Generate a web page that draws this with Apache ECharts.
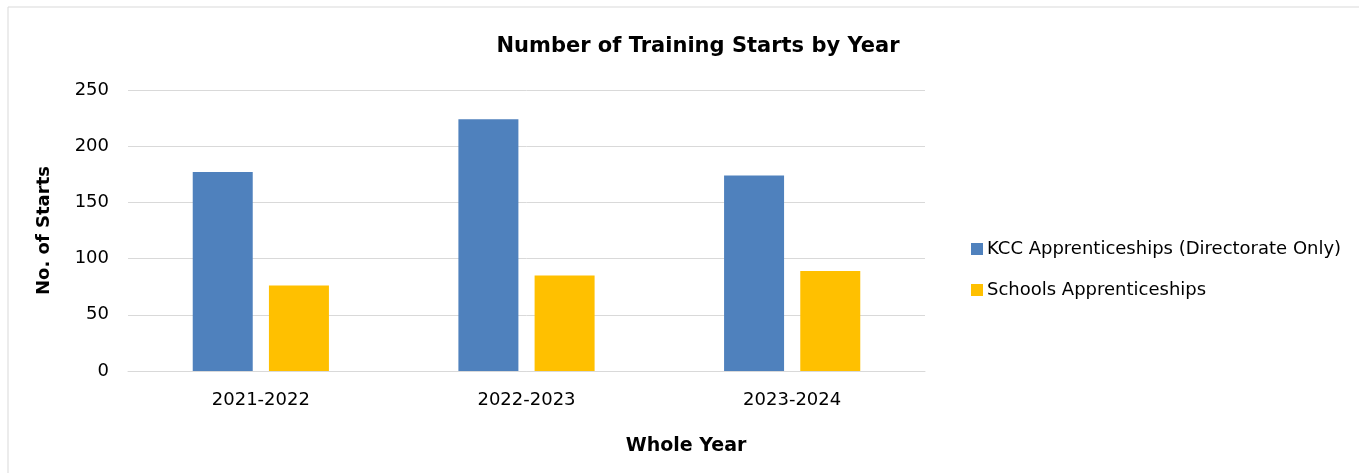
<!DOCTYPE html>
<html>
<head>
<meta charset="utf-8">
<script src="https://cdn.jsdelivr.net/npm/echarts@6/dist/echarts.min.js"></script>
<style>
  html, body { margin: 0; padding: 0; background: #fff; }
  #chart { width: 1359px; height: 473px; }
</style>
</head>
<body>
<div id="chart"></div>
<script>
var years = ['2021-2022', '2022-2023', '2023-2024'];
var kcc_values = [177, 224, 174];
var schools_values = [76, 85, 89];
var series_names = ['KCC Apprenticeships (Directorate Only)', 'Schools Apprenticeships'];

var font = 'DejaVu Sans';
var chart = echarts.init(document.getElementById('chart'));

var option = {
  animation: false,
  backgroundColor: '#fff',
  title: [
    {
      text: 'Number of Training Starts by Year',
      left: 693, top: 31, textAlign: 'center',
      textStyle: { fontFamily: font, fontSize: 21, fontWeight: 'bold', color: '#000' }
    },
    {
      text: 'Whole Year',
      left: 681, top: 432, textAlign: 'center',
      textStyle: { fontFamily: font, fontSize: 19, fontWeight: 'bold', color: '#000' }
    }
  ],
  graphic: [{
    type: 'rect',
    shape: { x: 8, y: 7, width: 1360, height: 480 },
    style: { fill: 'none', stroke: '#d9d9d9', lineWidth: 1 },
    silent: true
  }],
  legend: {
    orient: 'vertical',
    left: 966, top: 235,
    icon: 'rect',
    itemWidth: 12, itemHeight: 12, itemGap: 23,
    textStyle: { fontFamily: font, fontSize: 18, color: '#000', padding: [0, 0, 0, -1] },
    data: series_names
  },
  grid: { left: 128, right: 434, top: 90, bottom: 102, containLabel: false },
  xAxis: {
    type: 'category',
    data: years,
    axisLine: { lineStyle: { color: '#d9d9d9', width: 1 } },
    axisTick: { show: false },
    axisLabel: { fontFamily: font, fontSize: 18, color: '#000', margin: 20 }
  },
  yAxis: {
    type: 'value',
    min: 0, max: 250, interval: 50,
    name: 'No. of Starts',
    nameLocation: 'middle',
    nameGap: 75,
    nameTextStyle: { fontFamily: font, fontSize: 18, fontWeight: 'bold', color: '#000' },
    axisLine: { show: false },
    axisTick: { show: false },
    axisLabel: { fontFamily: font, fontSize: 18, color: '#000', margin: 19 },
    splitLine: { lineStyle: { color: '#d9d9d9', width: 1 } }
  },
  series: [
    {
      name: series_names[0], type: 'bar', data: kcc_values,
      barWidth: 60, barGap: '27%',
      itemStyle: { color: '#4f81bd' }
    },
    {
      name: series_names[1], type: 'bar', data: schools_values,
      barWidth: 60,
      itemStyle: { color: '#ffc000' }
    }
  ]
};
chart.setOption(option);
</script>
</body>
</html>
